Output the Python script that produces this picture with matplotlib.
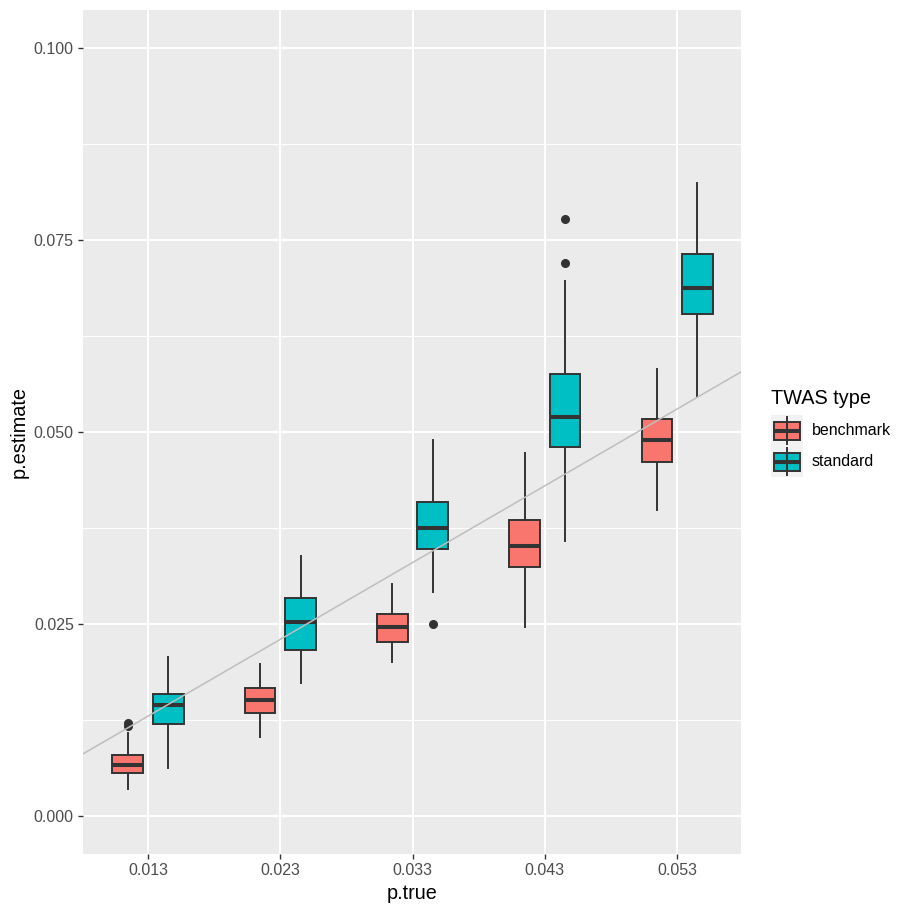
import matplotlib
matplotlib.use("Agg")
import matplotlib.pyplot as plt
from matplotlib.patches import Rectangle
from matplotlib.lines import Line2D

plt.rcParams["font.family"] = ["Liberation Sans", "DejaVu Sans"]

# ---- data ----
p_true = [0.013, 0.023, 0.033, 0.043, 0.053]
tick_labels = ["0.013", "0.023", "0.033", "0.043", "0.053"]
groups = ["benchmark", "standard"]

bench_whislo = [0.0035, 0.0103, 0.0201, 0.0246, 0.0398]
bench_q1 = [0.0056, 0.0134, 0.0226, 0.0324, 0.0461]
bench_med = [0.0066, 0.0151, 0.0246, 0.0352, 0.0489]
bench_q3 = [0.0079, 0.0167, 0.0263, 0.0385, 0.0517]
bench_whishi = [0.0108, 0.0198, 0.0302, 0.0473, 0.0582]
bench_outliers = [[0.0121, 0.0117], [], [], [], []]

std_whislo = [0.0063, 0.0173, 0.0292, 0.0358, 0.0547]
std_q1 = [0.0120, 0.0216, 0.0348, 0.0480, 0.0653]
std_med = [0.0144, 0.0253, 0.0375, 0.0520, 0.0688]
std_q3 = [0.0159, 0.0284, 0.0409, 0.0576, 0.0732]
std_whishi = [0.0207, 0.0339, 0.0489, 0.0697, 0.0824]
std_outliers = [[], [], [0.0250], [0.0777, 0.0720], []]

y_ticks = [0.000, 0.025, 0.050, 0.075, 0.100]
y_tick_labels = ["0.000", "0.025", "0.050", "0.075", "0.100"]

# ---- style ----
W = H = 913
DPI = 100
fill_colors = {"benchmark": "#F8766D", "standard": "#00BFC4"}
edge = "#333333"
box_lw = 1.4
med_lw = 2.9
dodge = 0.00153
box_w = 0.00232

fig = plt.figure(figsize=(W / DPI, H / DPI), dpi=DPI)
fig.patch.set_facecolor("white")

pl, pr, pt, pb = 83, 741, 10, 854
ax = fig.add_axes([pl / W, (H - pb) / H, (pr - pl) / W, (pb - pt) / H])
ax.set_facecolor("#EBEBEB")
for s in ax.spines.values():
    s.set_visible(False)

def stats_list(lo, q1, med, q3, hi, fl):
    return [dict(whislo=a, q1=b, med=c, q3=d, whishi=e, fliers=f)
            for a, b, c, d, e, f in zip(lo, q1, med, q3, hi, fl)]

series = {
    "benchmark": stats_list(bench_whislo, bench_q1, bench_med, bench_q3, bench_whishi, bench_outliers),
    "standard": stats_list(std_whislo, std_q1, std_med, std_q3, std_whishi, std_outliers),
}
offsets = {"benchmark": -dodge, "standard": dodge}

for g in groups:
    pos = [x + offsets[g] for x in p_true]
    ax.bxp(series[g], positions=pos, widths=box_w, patch_artist=True,
           showcaps=False,
           boxprops=dict(facecolor=fill_colors[g], edgecolor=edge, linewidth=box_lw),
           whiskerprops=dict(color=edge, linewidth=box_lw),
           medianprops=dict(color=edge, linewidth=med_lw, solid_capstyle="butt"),
           flierprops=dict(marker="o", markerfacecolor=edge, markeredgecolor=edge,
                           markersize=5.5),
           manage_ticks=False, zorder=3)

ax.axline((0, 0), slope=1, color="#BEBEBE", lw=1.1, zorder=4)

ax.set_xlim(0.013 - (148 - pl) / 13230, 0.013 + (pr - 148) / 13230)
ax.set_ylim(-(pb - 816) / 7680, (816 - pt) / 7680)

ax.set_xticks(p_true)
ax.set_xticklabels(tick_labels)
ax.set_yticks(y_ticks)
ax.set_yticklabels(y_tick_labels)
ax.set_yticks([0.0125, 0.0375, 0.0625, 0.0875], minor=True)
ax.grid(which="major", color="white", lw=1.4, zorder=0)
ax.grid(which="minor", axis="y", color="white", lw=0.7, zorder=0)
ax.set_axisbelow(True)
ax.tick_params(which="major", length=3.6, width=1.0, color=edge,
               labelcolor="#4D4D4D", labelsize=11.5, pad=3.0)
ax.tick_params(which="minor", length=0)

ax.set_xlabel("p.true", fontsize=14.3, color="black", labelpad=4)
ax.set_ylabel("p.estimate", fontsize=14.3, color="black", labelpad=4)

# ---- legend (drawn in figure pixel coordinates) ----
lax = fig.add_axes([0, 0, 1, 1], zorder=10)
lax.set_xlim(0, W)
lax.set_ylim(H, 0)
lax.axis("off")
lax.text(771, 398, "TWAS type", fontsize=14.3, ha="left", va="center", color="black")
key_x0, key_w, key_h = 771, 32, 31
for i, g in enumerate(groups):
    ky = 415 + i * key_h
    lax.add_patch(Rectangle((key_x0, ky), key_w, key_h, facecolor="#F2F2F2",
                            edgecolor="none"))
    cx = key_x0 + key_w / 2
    lax.add_line(Line2D([cx, cx], [ky + 2, ky + key_h - 2], color=edge, lw=box_lw))
    lax.add_patch(Rectangle((key_x0 + 3, ky + 7), key_w - 6, key_h - 13,
                            facecolor=fill_colors[g], edgecolor=edge, lw=box_lw))
    lax.add_line(Line2D([key_x0 + 3, key_x0 + key_w - 3], [ky + 7 + (key_h - 13) / 2] * 2,
                        color=edge, lw=med_lw, solid_capstyle="butt"))
    lax.text(812, ky + key_h / 2, g, fontsize=11.5, ha="left", va="center", color="black")

fig.savefig("out.png", dpi=DPI)
